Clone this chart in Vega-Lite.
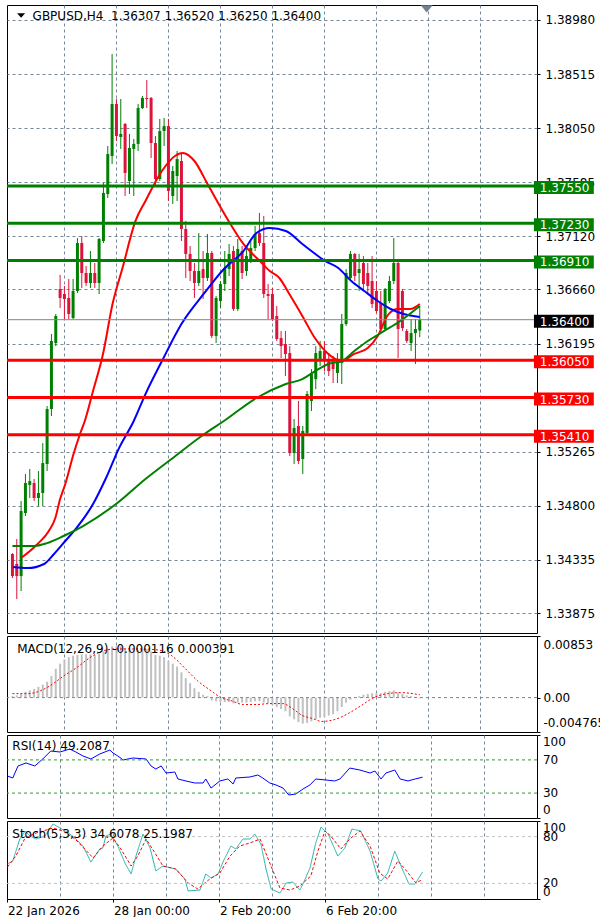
{
"$schema": "https://vega.github.io/schema/vega-lite/v6.json",
"background": "#ffffff",
"padding": {"left": 4, "top": 4, "right": 0, "bottom": 0},
"spacing": 3,
"bounds": "flush",
"config": {
  "view": {"stroke": "#000000", "strokeWidth": 1},
  "font": "DejaVu Sans",
  "axis": {"labelFont": "DejaVu Sans", "labelFontSize": 12, "labelColor": "#000000", "tickColor": "#000000", "gridColor": "#778899", "gridDash": [3, 3], "gridWidth": 1, "labelOverlap": false, "domain": false, "tickSize": 3, "labelPadding": 5},
  "text": {"font": "DejaVu Sans", "fontSize": 12}
},
"datasets": {
  "candles": [
    {"i":0,"open":1.34383,"high":1.34391,"low":1.34176,"close":1.34193},
    {"i":1,"open":1.34297,"high":1.34512,"low":1.33995,"close":1.34193},
    {"i":2,"open":1.34193,"high":1.34839,"low":1.34064,"close":1.34753},
    {"i":3,"open":1.34736,"high":1.35072,"low":1.34710,"close":1.34994},
    {"i":4,"open":1.34977,"high":1.35115,"low":1.34865,"close":1.35011},
    {"i":5,"open":1.34994,"high":1.35029,"low":1.34839,"close":1.34865},
    {"i":6,"open":1.34865,"high":1.35097,"low":1.34796,"close":1.34908},
    {"i":7,"open":1.34908,"high":1.35338,"low":1.34796,"close":1.35166},
    {"i":8,"open":1.35158,"high":1.35657,"low":1.35097,"close":1.35631},
    {"i":9,"open":1.35631,"high":1.36277,"low":1.35571,"close":1.36217},
    {"i":10,"open":1.36199,"high":1.36449,"low":1.36173,"close":1.36432},
    {"i":11,"open":1.36664,"high":1.36785,"low":1.36501,"close":1.36587},
    {"i":12,"open":1.36621,"high":1.36690,"low":1.36406,"close":1.36578},
    {"i":13,"open":1.36587,"high":1.36750,"low":1.36406,"close":1.36449},
    {"i":14,"open":1.36414,"high":1.36750,"low":1.36406,"close":1.36647},
    {"i":15,"open":1.36647,"high":1.37103,"low":1.36630,"close":1.37060},
    {"i":16,"open":1.37060,"high":1.37120,"low":1.36673,"close":1.36802},
    {"i":17,"open":1.36802,"high":1.36862,"low":1.36690,"close":1.36716},
    {"i":18,"open":1.36716,"high":1.36991,"low":1.36673,"close":1.36802},
    {"i":19,"open":1.36802,"high":1.36888,"low":1.36673,"close":1.36716},
    {"i":20,"open":1.36716,"high":1.37103,"low":1.36621,"close":1.37095},
    {"i":21,"open":1.37077,"high":1.37577,"low":1.37060,"close":1.37491},
    {"i":22,"open":1.37482,"high":1.37895,"low":1.37448,"close":1.37826},
    {"i":23,"open":1.37809,"high":1.38687,"low":1.37740,"close":1.38257},
    {"i":24,"open":1.38257,"high":1.38300,"low":1.37938,"close":1.37981},
    {"i":25,"open":1.37973,"high":1.38300,"low":1.37870,"close":1.37999},
    {"i":26,"open":1.38085,"high":1.38093,"low":1.37465,"close":1.37663},
    {"i":27,"open":1.37594,"high":1.37999,"low":1.37482,"close":1.37878},
    {"i":28,"open":1.37870,"high":1.37956,"low":1.37465,"close":1.37913},
    {"i":29,"open":1.37913,"high":1.38257,"low":1.37852,"close":1.38222},
    {"i":30,"open":1.38222,"high":1.38326,"low":1.38214,"close":1.38309},
    {"i":31,"open":1.38309,"high":1.38463,"low":1.38222,"close":1.38300},
    {"i":32,"open":1.38309,"high":1.38317,"low":1.37792,"close":1.37921},
    {"i":33,"open":1.37921,"high":1.37981,"low":1.37551,"close":1.37611},
    {"i":34,"open":1.37611,"high":1.38128,"low":1.37594,"close":1.38024},
    {"i":35,"open":1.38024,"high":1.38136,"low":1.37895,"close":1.38067},
    {"i":36,"open":1.38067,"high":1.38128,"low":1.37422,"close":1.37508},
    {"i":37,"open":1.37465,"high":1.37723,"low":1.37396,"close":1.37680},
    {"i":38,"open":1.37637,"high":1.37852,"low":1.37422,"close":1.37783},
    {"i":39,"open":1.37766,"high":1.37835,"low":1.37077,"close":1.37181},
    {"i":40,"open":1.37181,"high":1.37250,"low":1.36759,"close":1.36966},
    {"i":41,"open":1.36966,"high":1.37034,"low":1.36733,"close":1.36819},
    {"i":42,"open":1.36819,"high":1.36888,"low":1.36587,"close":1.36716},
    {"i":43,"open":1.36716,"high":1.37146,"low":1.36690,"close":1.36819},
    {"i":44,"open":1.36836,"high":1.36991,"low":1.36578,"close":1.36759},
    {"i":45,"open":1.36759,"high":1.37138,"low":1.36733,"close":1.36974},
    {"i":46,"open":1.36974,"high":1.36991,"low":1.36242,"close":1.36260},
    {"i":47,"open":1.36260,"high":1.36604,"low":1.36199,"close":1.36587},
    {"i":48,"open":1.36561,"high":1.36733,"low":1.36501,"close":1.36707},
    {"i":49,"open":1.36707,"high":1.36991,"low":1.36647,"close":1.36845},
    {"i":50,"open":1.36836,"high":1.37052,"low":1.36776,"close":1.36966},
    {"i":51,"open":1.36991,"high":1.37034,"low":1.36475,"close":1.36492},
    {"i":52,"open":1.36492,"high":1.37095,"low":1.36475,"close":1.37009},
    {"i":53,"open":1.36991,"high":1.37034,"low":1.36750,"close":1.36802},
    {"i":54,"open":1.36819,"high":1.37034,"low":1.36776,"close":1.36948},
    {"i":55,"open":1.36922,"high":1.37077,"low":1.36888,"close":1.37017},
    {"i":56,"open":1.37017,"high":1.37207,"low":1.36991,"close":1.37138},
    {"i":57,"open":1.37146,"high":1.37319,"low":1.37034,"close":1.37060},
    {"i":58,"open":1.37060,"high":1.37293,"low":1.36587,"close":1.36621},
    {"i":59,"open":1.36621,"high":1.36707,"low":1.36406,"close":1.36604},
    {"i":60,"open":1.36621,"high":1.36673,"low":1.36389,"close":1.36406},
    {"i":61,"open":1.36432,"high":1.36518,"low":1.36217,"close":1.36234},
    {"i":62,"open":1.36242,"high":1.36303,"low":1.36070,"close":1.36173},
    {"i":63,"open":1.36191,"high":1.36303,"low":1.35915,"close":1.36105},
    {"i":64,"open":1.36113,"high":1.36173,"low":1.35226,"close":1.35252},
    {"i":65,"open":1.35252,"high":1.35545,"low":1.35158,"close":1.35468},
    {"i":66,"open":1.35485,"high":1.35700,"low":1.35158,"close":1.35184},
    {"i":67,"open":1.35201,"high":1.35485,"low":1.35072,"close":1.35442},
    {"i":68,"open":1.35425,"high":1.35786,"low":1.35399,"close":1.35760},
    {"i":69,"open":1.35700,"high":1.35975,"low":1.35614,"close":1.35932},
    {"i":70,"open":1.35889,"high":1.36173,"low":1.35803,"close":1.36113},
    {"i":71,"open":1.36062,"high":1.36217,"low":1.36001,"close":1.36130},
    {"i":72,"open":1.36130,"high":1.36217,"low":1.35958,"close":1.36044},
    {"i":73,"open":1.36062,"high":1.36113,"low":1.35915,"close":1.35958},
    {"i":74,"open":1.36044,"high":1.36087,"low":1.35855,"close":1.35975},
    {"i":75,"open":1.35941,"high":1.36113,"low":1.35855,"close":1.36044},
    {"i":76,"open":1.36027,"high":1.36449,"low":1.35846,"close":1.36363},
    {"i":77,"open":1.36363,"high":1.36836,"low":1.36346,"close":1.36802},
    {"i":78,"open":1.36759,"high":1.36991,"low":1.36733,"close":1.36966},
    {"i":79,"open":1.36966,"high":1.36974,"low":1.36733,"close":1.36776},
    {"i":80,"open":1.36802,"high":1.36966,"low":1.36647,"close":1.36836},
    {"i":81,"open":1.36888,"high":1.36948,"low":1.36647,"close":1.36707},
    {"i":82,"open":1.36802,"high":1.36888,"low":1.36630,"close":1.36690},
    {"i":83,"open":1.36733,"high":1.36948,"low":1.36501,"close":1.36535},
    {"i":84,"open":1.36647,"high":1.36733,"low":1.36458,"close":1.36475},
    {"i":85,"open":1.36544,"high":1.36647,"low":1.36303,"close":1.36320},
    {"i":86,"open":1.36320,"high":1.36673,"low":1.36303,"close":1.36664},
    {"i":87,"open":1.36561,"high":1.36776,"low":1.36544,"close":1.36733},
    {"i":88,"open":1.36733,"high":1.37103,"low":1.36707,"close":1.36888},
    {"i":89,"open":1.36888,"high":1.36905,"low":1.36070,"close":1.36320},
    {"i":90,"open":1.36647,"high":1.36664,"low":1.36303,"close":1.36328},
    {"i":91,"open":1.36303,"high":1.36320,"low":1.36199,"close":1.36217},
    {"i":92,"open":1.36199,"high":1.36406,"low":1.36130,"close":1.36285},
    {"i":93,"open":1.36285,"high":1.36406,"low":1.36019,"close":1.36320},
    {"i":94,"open":1.36307,"high":1.36520,"low":1.36250,"close":1.36400}
  ],
  "ma": [
    {"s":"r","i":2.0,"v":1.34348},{"s":"r","i":5.8,"v":1.34469},{"s":"r","i":8.4,"v":1.34581},{"s":"r","i":9.9,"v":1.34693},{"s":"r","i":11.0,"v":1.34856},{"s":"r","i":12.2,"v":1.34986},{"s":"r","i":14.1,"v":1.35244},{"s":"r","i":15.6,"v":1.35416},{"s":"r","i":16.7,"v":1.35528},{"s":"r","i":18.6,"v":1.35786},{"s":"r","i":20.9,"v":1.36105},{"s":"r","i":23.1,"v":1.36535},{"s":"r","i":25.4,"v":1.36845},{"s":"r","i":28.4,"v":1.37250},{"s":"r","i":30.7,"v":1.37422},{"s":"r","i":34.5,"v":1.37680},{"s":"r","i":37.5,"v":1.37809},{"s":"r","i":39.3,"v":1.37835},{"s":"r","i":42.0,"v":1.37766},{"s":"r","i":44.9,"v":1.37577},{"s":"r","i":47.2,"v":1.37422},{"s":"r","i":50.3,"v":1.37224},{"s":"r","i":53.3,"v":1.37052},{"s":"r","i":57.1,"v":1.36905},{"s":"r","i":59.4,"v":1.36819},{"s":"r","i":61.6,"v":1.36759},{"s":"r","i":63.9,"v":1.36621},{"s":"r","i":66.9,"v":1.36432},{"s":"r","i":69.8,"v":1.36242},{"s":"r","i":72.9,"v":1.36105},{"s":"r","i":76.0,"v":1.36044},{"s":"r","i":78.9,"v":1.36105},{"s":"r","i":82.0,"v":1.36156},{"s":"r","i":84.3,"v":1.36260},{"s":"r","i":86.5,"v":1.36432},{"s":"r","i":88.8,"v":1.36492},{"s":"r","i":91.8,"v":1.36492},{"s":"r","i":94,"v":1.36535},
    {"s":"b","i":0.1,"v":1.34271},{"s":"b","i":3.5,"v":1.34262},{"s":"b","i":7.3,"v":1.34297},{"s":"b","i":9.6,"v":1.34383},{"s":"b","i":12.2,"v":1.34495},{"s":"b","i":14.8,"v":1.34607},{"s":"b","i":18.6,"v":1.34813},{"s":"b","i":21.6,"v":1.35037},{"s":"b","i":24.6,"v":1.35295},{"s":"b","i":28.0,"v":1.35528},{"s":"b","i":30.7,"v":1.35760},{"s":"b","i":34.5,"v":1.36044},{"s":"b","i":39.0,"v":1.36363},{"s":"b","i":44.3,"v":1.36630},{"s":"b","i":48.8,"v":1.36836},{"s":"b","i":53.3,"v":1.36991},{"s":"b","i":56.3,"v":1.37146},{"s":"b","i":59.4,"v":1.37189},{"s":"b","i":63.1,"v":1.37164},{"s":"b","i":66.9,"v":1.37052},{"s":"b","i":69.9,"v":1.36966},{"s":"b","i":72.2,"v":1.36905},{"s":"b","i":75.2,"v":1.36845},{"s":"b","i":78.2,"v":1.36733},{"s":"b","i":81.2,"v":1.36647},{"s":"b","i":84.3,"v":1.36561},{"s":"b","i":87.3,"v":1.36492},{"s":"b","i":90.3,"v":1.36449},{"s":"b","i":94,"v":1.36423},
    {"s":"g","i":0,"v":1.34452},{"s":"g","i":5.0,"v":1.34452},{"s":"g","i":8.0,"v":1.34477},{"s":"g","i":11.8,"v":1.34538},{"s":"g","i":16.3,"v":1.34624},{"s":"g","i":23.9,"v":1.34813},{"s":"g","i":30.7,"v":1.35029},{"s":"g","i":36.7,"v":1.35201},{"s":"g","i":44.3,"v":1.35416},{"s":"g","i":48.8,"v":1.35528},{"s":"g","i":56.3,"v":1.35726},{"s":"g","i":63.1,"v":1.35846},{"s":"g","i":66.9,"v":1.35889},{"s":"g","i":69.9,"v":1.35958},{"s":"g","i":72.9,"v":1.36019},{"s":"g","i":76.0,"v":1.36044},{"s":"g","i":78.9,"v":1.36130},{"s":"g","i":82.0,"v":1.36217},{"s":"g","i":85.8,"v":1.36303},{"s":"g","i":89.5,"v":1.36389},{"s":"g","i":94,"v":1.36518}
  ],
  "levels": [
    {"price":1.3755,"label":"1.37550","kind":"res"},
    {"price":1.3723,"label":"1.37230","kind":"res"},
    {"price":1.3691,"label":"1.36910","kind":"res"},
    {"price":1.364,"label":"1.36400","kind":"cur"},
    {"price":1.3605,"label":"1.36050","kind":"sup"},
    {"price":1.3573,"label":"1.35730","kind":"sup"},
    {"price":1.3541,"label":"1.35410","kind":"sup"}
  ],
  "macd": [
    {"i":0,"m":0.0002},{"i":1,"m":0.0003},{"i":2,"m":0.0005},{"i":3,"m":0.0008},{"i":4,"m":0.0010},{"i":5,"m":0.0012},{"i":6,"m":0.0015},{"i":7,"m":0.0018},{"i":8,"m":0.0022},{"i":9,"m":0.0030},
    {"i":10,"m":0.0040},{"i":11,"m":0.0047},{"i":12,"m":0.0053},{"i":13,"m":0.0056},{"i":14,"m":0.0058},{"i":15,"m":0.0059},{"i":16,"m":0.0060},{"i":17,"m":0.0060},{"i":18,"m":0.0060},{"i":19,"m":0.0059},
    {"i":20,"m":0.0061},{"i":21,"m":0.0064},{"i":22,"m":0.0067},{"i":23,"m":0.0071},{"i":24,"m":0.0071},{"i":25,"m":0.0071},{"i":26,"m":0.0068},{"i":27,"m":0.0066},{"i":28,"m":0.0065},{"i":29,"m":0.0066},
    {"i":30,"m":0.0067},{"i":31,"m":0.0067},{"i":32,"m":0.0064},{"i":33,"m":0.0059},{"i":34,"m":0.0058},{"i":35,"m":0.0056},{"i":36,"m":0.0051},{"i":37,"m":0.0047},{"i":38,"m":0.0043},{"i":39,"m":0.0035},
    {"i":40,"m":0.0027},{"i":41,"m":0.0020},{"i":42,"m":0.0013},{"i":43,"m":0.0008},{"i":44,"m":0.0004},{"i":45,"m":0.0002},{"i":46,"m":-0.0004},{"i":47,"m":-0.0005},{"i":48,"m":-0.0006},{"i":49,"m":-0.0006},
    {"i":50,"m":-0.0006},{"i":51,"m":-0.0008},{"i":52,"m":-0.0007},{"i":53,"m":-0.0007},{"i":54,"m":-0.0007},{"i":55,"m":-0.0006},{"i":56,"m":-0.0005},{"i":57,"m":-0.0005},{"i":58,"m":-0.0007},{"i":59,"m":-0.0008},
    {"i":60,"m":-0.0010},{"i":61,"m":-0.0013},{"i":62,"m":-0.0016},{"i":63,"m":-0.0019},{"i":64,"m":-0.0026},{"i":65,"m":-0.0030},{"i":66,"m":-0.0034},{"i":67,"m":-0.0036},{"i":68,"m":-0.0035},{"i":69,"m":-0.0033},
    {"i":70,"m":-0.0030},{"i":71,"m":-0.0028},{"i":72,"m":-0.0027},{"i":73,"m":-0.0025},{"i":74,"m":-0.0023},{"i":75,"m":-0.0019},{"i":76,"m":-0.0013},{"i":77,"m":-0.0007},{"i":78,"m":-0.0003},{"i":79,"m":0.0000},
    {"i":80,"m":0.0002},{"i":81,"m":0.0004},{"i":82,"m":0.0005},{"i":83,"m":0.0006},{"i":84,"m":0.0006},{"i":85,"m":0.0006},{"i":86,"m":0.0008},{"i":87,"m":0.0009},{"i":88,"m":0.0010},{"i":89,"m":0.0007},
    {"i":90,"m":0.0005},{"i":91,"m":0.0003},{"i":92,"m":0.0002},{"i":93,"m":0.0001},{"i":94,"m":-0.000116}
  ],
  "signal": [
    {"i":0,"v":0.00055},{"i":3.5,"v":0.00055},{"i":6.5,"v":0.00096},{"i":8.7,"v":0.00165},{"i":11.9,"v":0.00303},{"i":14.8,"v":0.00413},{"i":17.8,"v":0.0055},{"i":20.9,"v":0.00647},{"i":23.9,"v":0.00674},{"i":29.1,"v":0.00674},{"i":33.6,"v":0.0066},{"i":36.8,"v":0.00578},{"i":39.7,"v":0.00413},{"i":42.7,"v":0.00234},{"i":45.8,"v":0.00096},{"i":48.1,"v":0.0},{"i":50.4,"v":-0.00041},{"i":53.3,"v":-0.00096},{"i":56.3,"v":-0.00096},{"i":59.4,"v":-0.00083},{"i":62.4,"v":-0.00083},{"i":64.6,"v":-0.00151},{"i":66.9,"v":-0.00248},{"i":69.2,"v":-0.00289},{"i":71.4,"v":-0.0033},{"i":74.4,"v":-0.00303},{"i":77.5,"v":-0.0022},{"i":80.5,"v":-0.0011},{"i":83.4,"v":0.0},{"i":86.6,"v":0.00055},{"i":89.5,"v":0.00069},{"i":94,"v":0.000391}
  ],
  "rsi": [
    {"i":0,"v":50.6},{"i":1.2,"v":48.2},{"i":2.4,"v":62.7},{"i":4.2,"v":66.3},{"i":6.2,"v":62.7},{"i":8.0,"v":71.1},{"i":9.8,"v":80.7},{"i":11.9,"v":79.5},{"i":14.1,"v":83.1},{"i":15.5,"v":79.5},{"i":17.1,"v":74.7},{"i":18.9,"v":71.1},{"i":20.9,"v":77.1},{"i":23.2,"v":81.9},{"i":23.9,"v":78.3},{"i":25.0,"v":74.7},{"i":26.2,"v":69.9},{"i":28.4,"v":72.3},{"i":31.4,"v":71.1},{"i":32.5,"v":62.7},{"i":33.6,"v":59.0},{"i":34.8,"v":62.7},{"i":35.9,"v":54.2},{"i":37.9,"v":55.4},{"i":38.6,"v":47.0},{"i":40.4,"v":44.6},{"i":42.4,"v":42.2},{"i":44.3,"v":42.2},{"i":44.9,"v":47.0},{"i":46.1,"v":36.1},{"i":48.1,"v":44.6},{"i":49.9,"v":47.0},{"i":51.1,"v":41.0},{"i":51.7,"v":48.2},{"i":54.9,"v":49.4},{"i":56.7,"v":51.8},{"i":57.8,"v":48.2},{"i":59.4,"v":42.2},{"i":60.8,"v":39.8},{"i":62.4,"v":36.1},{"i":63.7,"v":27.7},{"i":65.3,"v":28.9},{"i":66.9,"v":34.9},{"i":68.5,"v":39.8},{"i":69.8,"v":47.0},{"i":72.1,"v":45.8},{"i":74.1,"v":44.6},{"i":75.3,"v":47.0},{"i":77.5,"v":60.2},{"i":79.8,"v":57.8},{"i":82.1,"v":54.2},{"i":83.2,"v":56.6},{"i":84.6,"v":47.0},{"i":85.7,"v":54.2},{"i":87.7,"v":57.8},{"i":88.9,"v":47.0},{"i":90.7,"v":44.6},{"i":92.3,"v":47.0},{"i":94,"v":49.2087}
  ],
  "stoch": [
    {"s":"k","i":0,"v":44.9},{"s":"k","i":1.2,"v":48.7},{"s":"k","i":2.8,"v":76.9},{"s":"k","i":4.0,"v":87.2},{"s":"k","i":5.1,"v":80.8},{"s":"k","i":6.5,"v":76.9},{"s":"k","i":8.5,"v":80.8},{"s":"k","i":10.3,"v":96.2},{"s":"k","i":11.9,"v":91.0},{"s":"k","i":14.1,"v":83.3},{"s":"k","i":15.3,"v":78.2},{"s":"k","i":17.1,"v":67.9},{"s":"k","i":18.9,"v":47.4},{"s":"k","i":20.9,"v":64.1},{"s":"k","i":21.6,"v":65.4},{"s":"k","i":22.3,"v":80.8},{"s":"k","i":23.4,"v":83.3},{"s":"k","i":25.0,"v":67.9},{"s":"k","i":26.6,"v":46.2},{"s":"k","i":28.0,"v":32.1},{"s":"k","i":29.1,"v":55.1},{"s":"k","i":30.7,"v":83.3},{"s":"k","i":32.3,"v":65.4},{"s":"k","i":33.6,"v":35.9},{"s":"k","i":35.2,"v":42.3},{"s":"k","i":38.1,"v":38.5},{"s":"k","i":40.2,"v":25.6},{"s":"k","i":40.9,"v":10.3},{"s":"k","i":43.6,"v":11.5},{"s":"k","i":44.9,"v":32.1},{"s":"k","i":46.1,"v":26.9},{"s":"k","i":47.7,"v":32.1},{"s":"k","i":48.8,"v":47.4},{"s":"k","i":50.6,"v":67.9},{"s":"k","i":51.7,"v":64.1},{"s":"k","i":53.3,"v":76.9},{"s":"k","i":54.9,"v":76.9},{"s":"k","i":56.0,"v":83.3},{"s":"k","i":57.4,"v":70.5},{"s":"k","i":58.5,"v":39.7},{"s":"k","i":59.7,"v":12.8},{"s":"k","i":61.7,"v":7.7},{"s":"k","i":63.1,"v":20.5},{"s":"k","i":64.6,"v":21.8},{"s":"k","i":66.2,"v":11.5},{"s":"k","i":66.9,"v":19.2},{"s":"k","i":68.5,"v":39.7},{"s":"k","i":69.8,"v":71.8},{"s":"k","i":71.0,"v":92.3},{"s":"k","i":72.6,"v":83.3},{"s":"k","i":74.8,"v":55.1},{"s":"k","i":76.4,"v":65.4},{"s":"k","i":78.0,"v":89.7},{"s":"k","i":80.0,"v":87.2},{"s":"k","i":82.1,"v":61.5},{"s":"k","i":83.9,"v":25.6},{"s":"k","i":84.6,"v":23.1},{"s":"k","i":86.1,"v":33.3},{"s":"k","i":87.7,"v":61.5},{"s":"k","i":89.1,"v":42.3},{"s":"k","i":90.9,"v":19.2},{"s":"k","i":92.3,"v":19.2},{"s":"k","i":94,"v":34.6078},
    {"s":"d","i":0,"v":41.0},{"s":"d","i":1.9,"v":55.1},{"s":"d","i":4.0,"v":78.2},{"s":"d","i":6.5,"v":84.6},{"s":"d","i":10.3,"v":91.0},{"s":"d","i":12.6,"v":87.2},{"s":"d","i":15.3,"v":76.9},{"s":"d","i":17.5,"v":64.1},{"s":"d","i":19.4,"v":52.6},{"s":"d","i":21.6,"v":67.9},{"s":"d","i":23.9,"v":78.2},{"s":"d","i":25.7,"v":64.1},{"s":"d","i":28.0,"v":42.3},{"s":"d","i":29.5,"v":55.1},{"s":"d","i":31.4,"v":76.9},{"s":"d","i":33.4,"v":59.0},{"s":"d","i":35.2,"v":42.3},{"s":"d","i":38.1,"v":38.5},{"s":"d","i":40.9,"v":20.5},{"s":"d","i":43.1,"v":12.8},{"s":"d","i":45.8,"v":25.6},{"s":"d","i":48.1,"v":33.3},{"s":"d","i":50.4,"v":55.1},{"s":"d","i":52.6,"v":67.9},{"s":"d","i":54.9,"v":71.8},{"s":"d","i":57.2,"v":76.9},{"s":"d","i":59.4,"v":46.2},{"s":"d","i":61.7,"v":14.1},{"s":"d","i":64.0,"v":11.5},{"s":"d","i":66.2,"v":16.7},{"s":"d","i":68.7,"v":29.5},{"s":"d","i":70.3,"v":61.5},{"s":"d","i":71.9,"v":87.2},{"s":"d","i":73.2,"v":80.8},{"s":"d","i":75.5,"v":64.1},{"s":"d","i":77.5,"v":76.9},{"s":"d","i":79.8,"v":87.2},{"s":"d","i":82.1,"v":67.9},{"s":"d","i":84.3,"v":33.3},{"s":"d","i":86.1,"v":25.6},{"s":"d","i":88.4,"v":48.7},{"s":"d","i":90.0,"v":38.5},{"s":"d","i":92.5,"v":20.5},{"s":"d","i":94,"v":25.1987}
  ]
},
"vconcat": [
  {
    "width": 530, "height": 628,
    "resolve": {"scale": {"color": "independent"}},
    "layer": [
      {"data": {"name": "candles"},
       "mark": {"type": "rule", "strokeWidth": 1},
       "encoding": {
         "x": {"field": "i", "type": "quantitative", "scale": {"domain": [-0.1, 119.9], "nice": false, "zero": false},
               "axis": {"values": [12,24,36,48,60,72,84,96,108], "grid": true, "labels": false, "ticks": false, "domain": false, "title": null, "labelOverlap": false, "labelFlush": false}},
         "y": {"field": "low", "type": "quantitative", "scale": {"domain": [1.33703, 1.39109], "nice": false, "zero": false},
               "axis": {"orient": "right", "values": [1.33875,1.34335,1.348,1.35265,1.36195,1.3666,1.3712,1.37585,1.3805,1.38515,1.3898], "format": ".5f", "grid": true, "title": null, "labelOverlap": false, "labelFlush": false}},
         "y2": {"field": "high"},
         "color": {"condition": {"test": "datum.close >= datum.open", "value": "#008000"}, "value": "#dc143c"}
       }},
      {"data": {"name": "candles"},
       "mark": {"type": "bar", "width": 3},
       "encoding": {
         "x": {"field": "i", "type": "quantitative", "scale": {"domain": [-0.1, 119.9], "nice": false, "zero": false}},
         "y": {"field": "open", "type": "quantitative", "scale": {"domain": [1.33703, 1.39109], "nice": false, "zero": false}},
         "y2": {"field": "close"},
         "color": {"condition": {"test": "datum.close >= datum.open", "value": "#008000"}, "value": "#dc143c"}
       }},
      {"data": {"name": "ma"},
       "mark": {"type": "line", "strokeWidth": 2, "interpolate": "monotone"},
       "encoding": {
         "x": {"field": "i", "type": "quantitative", "scale": {"domain": [-0.1, 119.9], "nice": false, "zero": false}},
         "y": {"field": "v", "type": "quantitative", "scale": {"domain": [1.33703, 1.39109], "nice": false, "zero": false}},
         "color": {"field": "s", "type": "nominal", "scale": {"domain": ["r","b","g"], "range": ["#ff0000","#0000ff","#008000"]}, "legend": null}
       }},
      {"data": {"name": "levels"},
       "transform": [{"filter": "datum.kind === 'cur'"}],
       "mark": {"type": "rule", "strokeWidth": 1, "color": "#778899"},
       "encoding": {
         "y": {"field": "price", "type": "quantitative", "scale": {"domain": [1.33703, 1.39109], "nice": false, "zero": false}}
       }},
      {"data": {"name": "levels"},
       "transform": [{"filter": "datum.kind !== 'cur'"}],
       "mark": {"type": "rule", "strokeWidth": 3},
       "encoding": {
         "y": {"field": "price", "type": "quantitative", "scale": {"domain": [1.33703, 1.39109], "nice": false, "zero": false}},
         "color": {"field": "kind", "type": "nominal", "scale": {"domain": ["res","sup","cur"], "range": ["#008000","#ff0000","#000000"]}, "legend": null}
       }},
      {"data": {"name": "levels"},
       "mark": {"type": "rect", "yOffset": -5, "y2Offset": 8},
       "encoding": {
         "x": {"datum": 120.35, "type": "quantitative", "scale": {"domain": [-0.1, 119.9], "nice": false, "zero": false}},
         "x2": {"datum": 134.16},
         "y": {"field": "price", "type": "quantitative", "scale": {"domain": [1.33703, 1.39109], "nice": false, "zero": false}},
         "y2": {"field": "price"},
         "color": {"field": "kind", "type": "nominal", "scale": {"domain": ["res","sup","cur"], "range": ["#008000","#ff0000","#000000"]}, "legend": null}
       }},
      {"data": {"name": "levels"},
       "mark": {"type": "text", "align": "left", "baseline": "middle", "dy": 2, "fill": "#ffffff", "font": "DejaVu Sans", "fontSize": 12},
       "encoding": {
         "x": {"datum": 121.71, "type": "quantitative", "scale": {"domain": [-0.1, 119.9], "nice": false, "zero": false}},
         "y": {"field": "price", "type": "quantitative", "scale": {"domain": [1.33703, 1.39109], "nice": false, "zero": false}},
         "text": {"field": "label"}
       }},
      {"data": {"values": [{"t": "GBPUSD,H4\u00a0\u00a01.36307 1.36520 1.36250 1.36400"}]},
       "mark": {"type": "text", "align": "left", "baseline": "alphabetic", "fill": "#000000", "font": "DejaVu Sans", "fontSize": 12},
       "encoding": {
         "x": {"datum": 4.65, "type": "quantitative", "scale": {"domain": [-0.1, 119.9], "nice": false, "zero": false}},
         "y": {"datum": 1.38977, "type": "quantitative", "scale": {"domain": [1.33703, 1.39109], "nice": false, "zero": false}},
         "text": {"field": "t"}
       }},
      {"data": {"values": [{}]},
       "mark": {"type": "point", "shape": "M-1,-0.55L1,-0.55L0,0.55Z", "filled": true, "fill": "#000000", "size": 64, "opacity": 1, "strokeWidth": 0},
       "encoding": {
         "x": {"datum": 2.0, "type": "quantitative", "scale": {"domain": [-0.1, 119.9], "nice": false, "zero": false}},
         "y": {"datum": 1.39019, "type": "quantitative", "scale": {"domain": [1.33703, 1.39109], "nice": false, "zero": false}}
       }},
      {"data": {"values": [{}]},
       "mark": {"type": "point", "shape": "M-1,-0.6L1,-0.6L0,0.6Z", "filled": true, "fill": "#708090", "size": 144, "opacity": 1, "strokeWidth": 0},
       "encoding": {
         "x": {"datum": 95.6, "type": "quantitative", "scale": {"domain": [-0.1, 119.9], "nice": false, "zero": false}},
         "y": {"datum": 1.39075, "type": "quantitative", "scale": {"domain": [1.33703, 1.39109], "nice": false, "zero": false}}
       }}
    ]
  },
  {
    "width": 530, "height": 96,
    "layer": [
      {"data": {"name": "macd"},
       "mark": {"type": "bar", "width": 2, "color": "#c0c0c0"},
       "encoding": {
         "x": {"field": "i", "type": "quantitative", "scale": {"domain": [-0.1, 119.9], "nice": false, "zero": false},
               "axis": {"values": [12,24,36,48,60,72,84,96,108], "grid": true, "labels": false, "ticks": false, "domain": false, "title": null, "labelOverlap": false, "labelFlush": false}},
         "y": {"field": "m", "type": "quantitative", "scale": {"domain": [-0.004765, 0.00853], "nice": false, "zero": false},
               "axis": {"orient": "right", "values": [-0.004765, 0, 0.00853], "labelExpr": "datum.value === 0 ? '0.00' : (datum.value > 0 ? '0.00853' : '-0.004765')", "labelFlush": true, "labelFlushOffset": -3, "labelOverlap": false, "labelPadding": 3, "grid": false, "title": null}},
         "y2": {"datum": 0}
       }},
      {"data": {"values": [{"z": 0}]},
       "mark": {"type": "rule", "color": "#778899", "strokeDash": [3, 3], "strokeWidth": 1},
       "encoding": {
         "y": {"field": "z", "type": "quantitative", "scale": {"domain": [-0.004765, 0.00853], "nice": false, "zero": false}}
       }},
      {"data": {"name": "signal"},
       "mark": {"type": "line", "color": "#ff0000", "strokeWidth": 1, "strokeDash": [2, 2], "interpolate": "monotone"},
       "encoding": {
         "x": {"field": "i", "type": "quantitative", "scale": {"domain": [-0.1, 119.9], "nice": false, "zero": false}},
         "y": {"field": "v", "type": "quantitative", "scale": {"domain": [-0.004765, 0.00853], "nice": false, "zero": false}}
       }},
      {"data": {"values": [{"t": "MACD(12,26,9) -0.000116 0.000391"}]},
       "mark": {"type": "text", "align": "left", "baseline": "alphabetic", "fill": "#000000", "font": "DejaVu Sans", "fontSize": 12},
       "encoding": {
         "x": {"datum": 1.1, "type": "quantitative", "scale": {"domain": [-0.1, 119.9], "nice": false, "zero": false}},
         "y": {"datum": 0.00622, "type": "quantitative", "scale": {"domain": [-0.004765, 0.00853], "nice": false, "zero": false}},
         "text": {"field": "t"}
       }}
    ]
  },
  {
    "width": 530, "height": 83,
    "layer": [
      {"data": {"name": "rsi"},
       "mark": {"type": "line", "color": "#0000ff", "strokeWidth": 1},
       "encoding": {
         "x": {"field": "i", "type": "quantitative", "scale": {"domain": [-0.1, 119.9], "nice": false, "zero": false},
               "axis": {"values": [12,24,36,48,60,72,84,96,108], "grid": true, "labels": false, "ticks": false, "domain": false, "title": null, "labelOverlap": false, "labelFlush": false}},
         "y": {"field": "v", "type": "quantitative", "scale": {"domain": [0, 100], "nice": false, "zero": false},
               "axis": {"orient": "right", "values": [0, 30, 70, 100], "labels": false, "grid": false, "title": null}}
       }},
      {"data": {"values": [{"lv": 70}, {"lv": 30}]},
       "mark": {"type": "rule", "color": "#2ca02c", "strokeDash": [3, 3], "strokeWidth": 1},
       "encoding": {
         "y": {"field": "lv", "type": "quantitative", "scale": {"domain": [0, 100], "nice": false, "zero": false}}
       }},
      {"data": {"values": [{"lv": 70, "t": "70"}, {"lv": 30, "t": "30"}]},
       "mark": {"type": "text", "align": "left", "baseline": "middle", "fill": "#000000", "font": "DejaVu Sans", "fontSize": 12},
       "encoding": {
         "x": {"datum": 121.25, "type": "quantitative", "scale": {"domain": [-0.1, 119.9], "nice": false, "zero": false}},
         "y": {"field": "lv", "type": "quantitative", "scale": {"domain": [0, 100], "nice": false, "zero": false}},
         "text": {"field": "t"}
       }},
      {"data": {"values": [{"lv": 100, "t": "100"}]},
       "mark": {"type": "text", "align": "left", "baseline": "top", "dy": 2, "fill": "#000000", "font": "DejaVu Sans", "fontSize": 12},
       "encoding": {
         "x": {"datum": 121.25, "type": "quantitative", "scale": {"domain": [-0.1, 119.9], "nice": false, "zero": false}},
         "y": {"field": "lv", "type": "quantitative", "scale": {"domain": [0, 100], "nice": false, "zero": false}},
         "text": {"field": "t"}
       }},
      {"data": {"values": [{"lv": 0, "t": "0"}]},
       "mark": {"type": "text", "align": "left", "baseline": "bottom", "dy": -1, "fill": "#000000", "font": "DejaVu Sans", "fontSize": 12},
       "encoding": {
         "x": {"datum": 121.25, "type": "quantitative", "scale": {"domain": [-0.1, 119.9], "nice": false, "zero": false}},
         "y": {"field": "lv", "type": "quantitative", "scale": {"domain": [0, 100], "nice": false, "zero": false}},
         "text": {"field": "t"}
       }},
      {"data": {"values": [{"t": "RSI(14) 49.2087"}]},
       "mark": {"type": "text", "align": "left", "baseline": "alphabetic", "fill": "#000000", "font": "DejaVu Sans", "fontSize": 12},
       "encoding": {
         "x": {"datum": 1.1, "type": "quantitative", "scale": {"domain": [-0.1, 119.9], "nice": false, "zero": false}},
         "y": {"datum": 81.9, "type": "quantitative", "scale": {"domain": [0, 100], "nice": false, "zero": false}},
         "text": {"field": "t"}
       }}
    ]
  },
  {
    "width": 530, "height": 78,
    "resolve": {"scale": {"color": "independent", "strokeDash": "independent"}},
    "layer": [
      {"data": {"name": "stoch"},
       "mark": {"type": "line", "strokeWidth": 1},
       "encoding": {
         "x": {"field": "i", "type": "quantitative", "scale": {"domain": [-0.1, 119.9], "nice": false, "zero": false},
               "axis": {"values": [0,12,24,36,48,60,72,84,96,108], "grid": true, "domain": false, "title": null,
                        "gridOpacity": {"condition": {"test": "datum.value === 0", "value": 0}, "value": 1},
                        "tickOpacity": {"condition": {"test": "datum.value % 24 === 0 && datum.value <= 72", "value": 1}, "value": 0},
                        "labelExpr": "datum.value === 0 ? '22 Jan 2026' : datum.value === 24 ? '28 Jan 00:00' : datum.value === 48 ? '2 Feb 20:00' : datum.value === 72 ? '6 Feb 20:00' : ''",
                        "labelAlign": "left", "labelFlush": false, "labelOverlap": false, "labelBound": false, "labelPadding": 3, "tickSize": 3}},
         "y": {"field": "v", "type": "quantitative", "scale": {"domain": [0, 100], "nice": false, "zero": false},
               "axis": {"orient": "right", "values": [0, 20, 80, 100], "labels": false, "grid": false, "title": null}},
         "color": {"field": "s", "type": "nominal", "scale": {"domain": ["k","d"], "range": ["#20b2aa","#ff0000"]}, "legend": null},
         "strokeDash": {"field": "s", "type": "nominal", "scale": {"domain": ["k","d"], "range": [[1,0],[3,2]]}, "legend": null}
       }},
      {"data": {"values": [{"lv": 80}, {"lv": 20}]},
       "mark": {"type": "rule", "color": "#c0c0c0", "strokeDash": [3, 3], "strokeWidth": 1},
       "encoding": {
         "y": {"field": "lv", "type": "quantitative", "scale": {"domain": [0, 100], "nice": false, "zero": false}}
       }},
      {"data": {"values": [{"lv": 80, "t": "80"}, {"lv": 20, "t": "20"}]},
       "mark": {"type": "text", "align": "left", "baseline": "middle", "fill": "#000000", "font": "DejaVu Sans", "fontSize": 12},
       "encoding": {
         "x": {"datum": 121.25, "type": "quantitative", "scale": {"domain": [-0.1, 119.9], "nice": false, "zero": false}},
         "y": {"field": "lv", "type": "quantitative", "scale": {"domain": [0, 100], "nice": false, "zero": false}},
         "text": {"field": "t"}
       }},
      {"data": {"values": [{"lv": 100, "t": "100"}]},
       "mark": {"type": "text", "align": "left", "baseline": "top", "dy": 2, "fill": "#000000", "font": "DejaVu Sans", "fontSize": 12},
       "encoding": {
         "x": {"datum": 121.25, "type": "quantitative", "scale": {"domain": [-0.1, 119.9], "nice": false, "zero": false}},
         "y": {"field": "lv", "type": "quantitative", "scale": {"domain": [0, 100], "nice": false, "zero": false}},
         "text": {"field": "t"}
       }},
      {"data": {"values": [{"lv": 0, "t": "0"}]},
       "mark": {"type": "text", "align": "left", "baseline": "bottom", "dy": 0, "fill": "#000000", "font": "DejaVu Sans", "fontSize": 12},
       "encoding": {
         "x": {"datum": 121.25, "type": "quantitative", "scale": {"domain": [-0.1, 119.9], "nice": false, "zero": false}},
         "y": {"field": "lv", "type": "quantitative", "scale": {"domain": [0, 100], "nice": false, "zero": false}},
         "text": {"field": "t"}
       }},
      {"data": {"values": [{"t": "Stoch(5,3,3) 34.6078 25.1987"}]},
       "mark": {"type": "text", "align": "left", "baseline": "alphabetic", "fill": "#000000", "font": "DejaVu Sans", "fontSize": 12},
       "encoding": {
         "x": {"datum": 1.1, "type": "quantitative", "scale": {"domain": [-0.1, 119.9], "nice": false, "zero": false}},
         "y": {"datum": 78.6, "type": "quantitative", "scale": {"domain": [0, 100], "nice": false, "zero": false}},
         "text": {"field": "t"}
       }}
    ]
  }
]
}
